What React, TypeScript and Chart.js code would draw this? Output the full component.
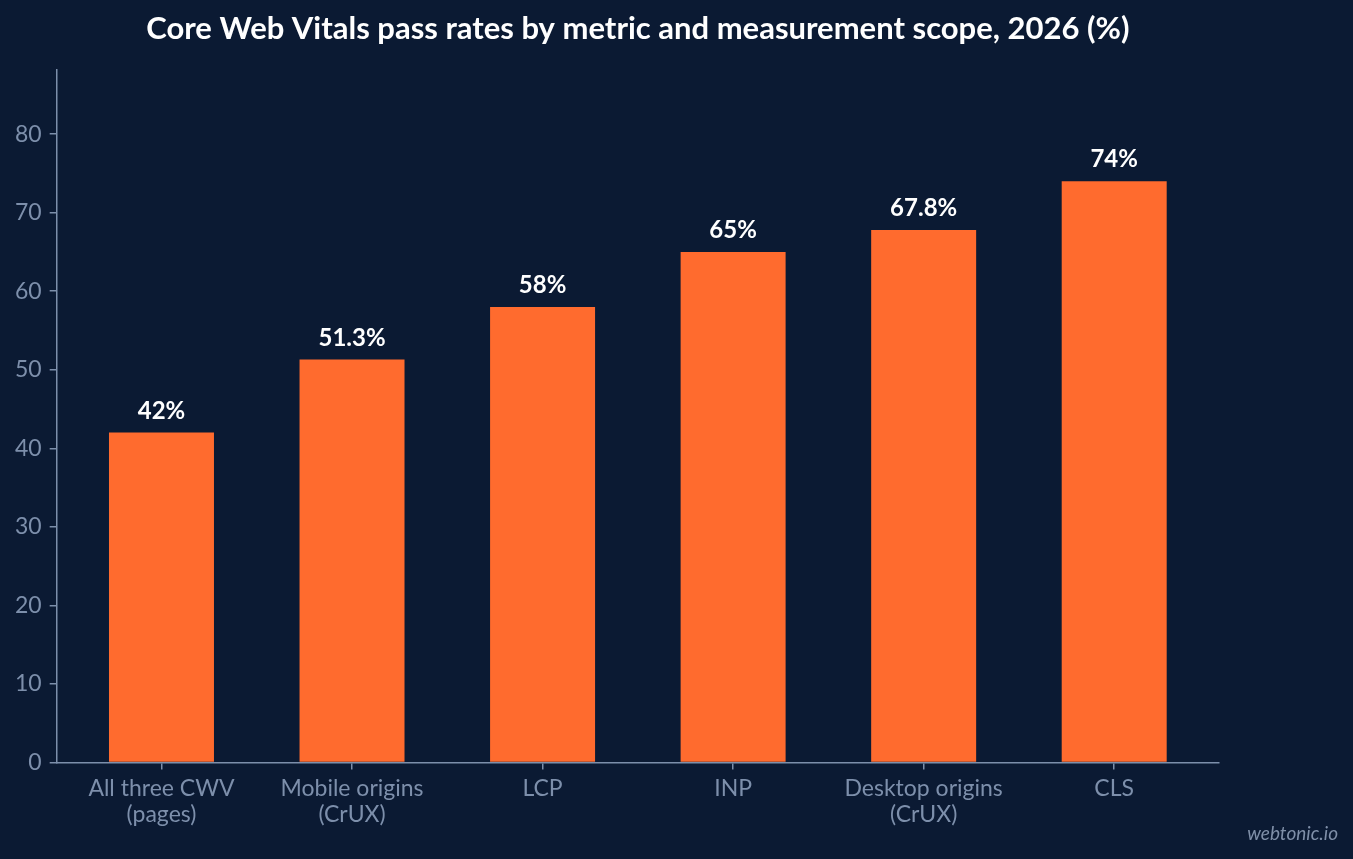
import React, { useEffect, useRef } from "react";
import { Chart, registerables } from "chart.js";

Chart.register(...registerables);

const title = "Core Web Vitals pass rates by metric and measurement scope, 2026 (%)";
const categories: (string | string[])[] = [
  ["All three CWV", "(pages)"],
  ["Mobile origins", "(CrUX)"],
  "LCP",
  "INP",
  ["Desktop origins", "(CrUX)"],
  "CLS",
];
const values = [42, 51.3, 58, 65, 67.8, 74];
const valueLabels = ["42%", "51.3%", "58%", "65%", "67.8%", "74%"];
const yTicks = [0, 10, 20, 30, 40, 50, 60, 70, 80];
const watermark = "webtonic.io";

const BG = "#0b1a33";
const BAR = "#ff6b2e";
const AXIS = "#7d8fab";
const FONT = "Lato, 'Noto Sans', sans-serif";

export default function App() {
  const ref = useRef<HTMLCanvasElement | null>(null);

  useEffect(() => {
    document.body.style.margin = "0";
    document.body.style.background = BG;
    const canvas = ref.current;
    if (!canvas) return;

    const labelPlugin = {
      id: "valueLabels",
      afterDatasetsDraw(chart: any) {
        const ctx = chart.ctx;
        const meta = chart.getDatasetMeta(0);
        ctx.save();
        ctx.font = `bold 24px ${FONT}`;
        ctx.fillStyle = "#ffffff";
        ctx.textAlign = "center";
        ctx.textBaseline = "alphabetic";
        meta.data.forEach((bar: any, i: number) => {
          ctx.fillText(valueLabels[i], bar.x, bar.y - 14);
        });
        ctx.restore();
      },
      afterDraw(chart: any) {
        const ctx = chart.ctx;
        ctx.save();
        ctx.font = `italic 19px ${FONT}`;
        ctx.fillStyle = "#7f8fa8";
        ctx.textAlign = "right";
        ctx.textBaseline = "middle";
        ctx.fillText(watermark, chart.width - 15, chart.height - 25);
        ctx.restore();
      },
    };

    const chart = new Chart(canvas, {
      type: "bar",
      data: {
        datasets: [
          {
            data: values.map((v, i) => ({ x: i, y: v })),
            backgroundColor: BAR,
            borderWidth: 0,
            categoryPercentage: 1,
            barPercentage: 0.551,
          },
        ],
      },
      options: {
        animation: false,
        responsive: false,
        devicePixelRatio: 1,
        layout: { padding: { left: 7, right: 134, top: 0, bottom: 25 } },
        plugins: {
          legend: { display: false },
          tooltip: { enabled: false },
          title: {
            display: true,
            text: title,
            color: "#ffffff",
            fullSize: false,
            font: { family: FONT, size: 31, weight: "bold", lineHeight: 1.2 },
            padding: { top: 10, bottom: 23 },
          },
        },
        scales: {
          x: {
            type: "linear",
            offset: false,
            min: -0.55,
            max: categories.length - 0.45,
            grid: { display: true, offset: false, drawOnChartArea: false, color: AXIS, tickLength: 7, lineWidth: 1.5 },
            border: { display: true, color: AXIS, width: 1.5 },
            afterBuildTicks: (scale: any) => {
              scale.ticks = categories.map((_, i) => ({ value: i }));
            },
            ticks: {
              color: AXIS,
              font: { family: FONT, size: 23, lineHeight: 1.1 },
              padding: 7,
              autoSkip: false,
              maxRotation: 0,
              callback: (v: any) => categories[v as number],
            },
          },
          y: {
            type: "linear",
            min: 0,
            max: 88.15,
            grid: { display: true, drawOnChartArea: false, color: AXIS, tickLength: 7, lineWidth: 1.5 },
            border: { display: true, color: AXIS, width: 1.5 },
            afterBuildTicks: (scale: any) => {
              scale.ticks = yTicks.map((v) => ({ value: v }));
            },
            ticks: {
              color: AXIS,
              font: { family: FONT, size: 23 },
              padding: 8,
            },
          },
        },
      },
      plugins: [labelPlugin],
    });

    return () => chart.destroy();
  }, []);

  return (
    <div style={{ width: 1353, height: 859, background: BG }}>
      <canvas ref={ref} width={1353} height={859} style={{ display: "block" }} />
    </div>
  );
}
